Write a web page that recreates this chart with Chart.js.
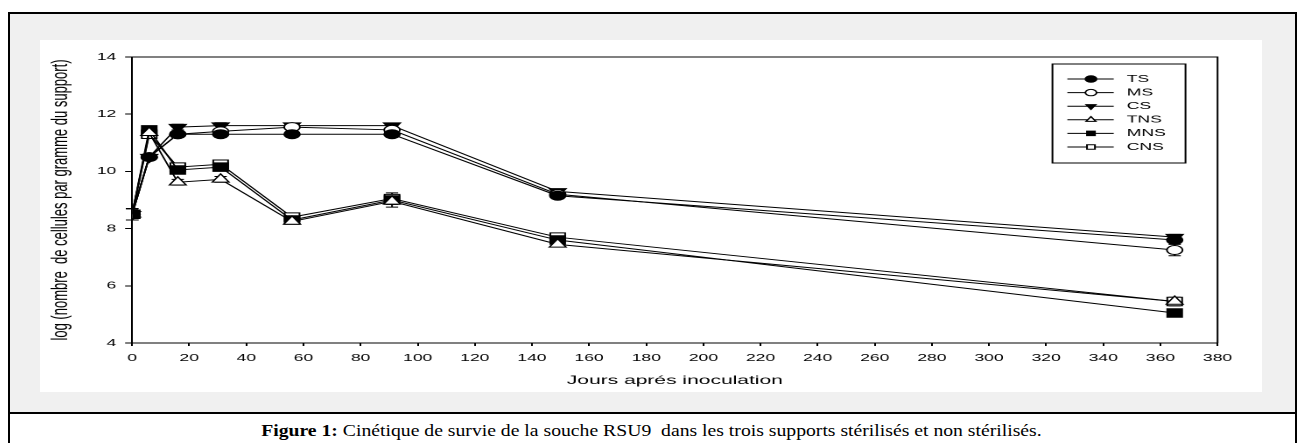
<!DOCTYPE html>
<html>
<head>
<meta charset="utf-8">
<script src="https://cdn.jsdelivr.net/npm/chart.js@4.4.1/dist/chart.umd.min.js"></script>
<style>
  html, body { margin: 0; padding: 0; background: #fff; width: 1303px; height: 443px; overflow: hidden; }
  #outer { position: absolute; left: 8px; top: 12px; width: 1285px; height: 440px; border: 2px solid #000; background: #fff; }
  #panel { position: absolute; left: 0; top: 0; width: 1285px; height: 398px; background: #f0f0f0; border-bottom: 2px solid #000; }
  #plot { position: absolute; left: 30px; top: 26px; width: 1222px; height: 352px; background: #fff; }
  #caption { position: absolute; left: 0; top: 419px; width: 1303px; text-align: center;
             font-family: "Liberation Serif", "Times New Roman", serif; font-size: 17.5px; line-height: 22px; color: #000;
             transform: scaleX(1.125); transform-origin: 652px 0; }
  canvas { display: block; }
</style>
</head>
<body>
<div id="outer">
  <div id="panel">
    <div id="plot"><canvas id="chart" width="698" height="352" style="width:1222px;height:352px"></canvas></div>
  </div>
</div>
<div id="caption"><b>Figure 1:</b> Cinétique de survie de la souche RSU9&nbsp; dans les trois supports stérilisés et non stérilisés.</div>

<script>
// ------------------------------------------------------------
// Data
// ------------------------------------------------------------
const DAYS = [0, 6, 16, 31, 56, 91, 149, 365];

const TS  = [8.5, 10.5, 11.3, 11.3, 11.3, 11.3, 9.15, 7.6];
const MS  = [8.5, 10.5, 11.3, 11.4, 11.55, 11.45, 9.2, 7.25];
const CS  = [8.5, 10.5, 11.55, 11.6, 11.6, 11.6, 9.3, 7.7];
const TNS = [8.5, 11.35, 9.62, 9.72, 8.25, 8.95, 7.45, 5.45];
const MNS = [8.5, 11.45, 10.05, 10.15, 8.3, 9.0, 7.6, 5.05];
const CNS = [8.5, 11.3, 10.15, 10.25, 8.4, 9.05, 7.7, 5.45];

const TS_ERR  = [0.2, 0.1, 0.05, 0.05, 0.05, 0.1, 0.05, 0.1];
const MS_ERR  = [0.2, 0.1, 0.1, 0.2, 0.1, 0.1, 0.05, 0.2];
const CS_ERR  = [0.2, 0.1, 0.1, 0.1, 0.05, 0.05, 0.05, 0.1];
const TNS_ERR = [0.2, 0.1, 0.1, 0.1, 0.05, 0.2, 0.05, 0.1];
const MNS_ERR = [0.2, 0.1, 0.1, 0.1, 0.05, 0.15, 0.05, 0.1];
const CNS_ERR = [0.2, 0.1, 0.1, 0.15, 0.05, 0.2, 0.05, 0.15];

const LABELS = ['TS', 'MS', 'CS', 'TNS', 'MNS', 'CNS'];

const X_MIN = 0, X_MAX = 380, X_STEP = 20;
const Y_MIN = 4, Y_MAX = 14, Y_STEP = 2;

const FONT = "'Liberation Sans', Arial, sans-serif";

function pts(ys) {
  return DAYS.map((d, i) => ({ x: d, y: ys[i] }));
}

// marker look per series
const MARKERS = [
  { style: 'circle',   fill: '#000', radius: 4.5, rotation: 0 },
  { style: 'circle',   fill: '#fff', radius: 4.5, rotation: 0 },
  { style: 'triangle', fill: '#000', radius: 5.5, rotation: 180 },
  { style: 'triangle', fill: '#fff', radius: 5.5, rotation: 0 },
  { style: 'rect',     fill: '#000', radius: 6,   rotation: 0 },
  { style: 'rect',     fill: '#fff', radius: 6,   rotation: 0 }
];

const SERIES = [TS, MS, CS, TNS, MNS, CNS];
const ERRORS = [TS_ERR, MS_ERR, CS_ERR, TNS_ERR, MNS_ERR, CNS_ERR];

// small marker drawer for the legend
function drawMarker(ctx, m, x, y, r) {
  ctx.save();
  ctx.fillStyle = m.fill;
  ctx.strokeStyle = '#000';
  ctx.lineWidth = 1;
  ctx.beginPath();
  if (m.style === 'circle') {
    ctx.arc(x, y, r, 0, Math.PI * 2);
  } else if (m.style === 'rect') {
    const s = r * Math.SQRT1_2;
    ctx.rect(x - s, y - s, 2 * s, 2 * s);
  } else {
    const dir = m.rotation === 180 ? -1 : 1;
    ctx.moveTo(x, y - dir * r);
    ctx.lineTo(x + r * 0.866, y + dir * r * 0.5);
    ctx.lineTo(x - r * 0.866, y + dir * r * 0.5);
    ctx.closePath();
  }
  ctx.fill();
  ctx.stroke();
  ctx.restore();
}

// error bars with caps, drawn under the markers
const errorBars = {
  id: 'errorBars',
  beforeDatasetsDraw(chart) {
    const { ctx, scales: { x, y } } = chart;
    ctx.save();
    ctx.strokeStyle = '#000';
    ctx.lineWidth = 1;
    chart.data.datasets.forEach((ds, i) => {
      const err = ERRORS[i];
      ds.data.forEach((p, j) => {
        const px = x.getPixelForValue(p.x);
        const y1 = y.getPixelForValue(p.y - err[j]);
        const y2 = y.getPixelForValue(p.y + err[j]);
        ctx.beginPath();
        ctx.moveTo(px, y1); ctx.lineTo(px, y2);
        ctx.moveTo(px - 3.5, y1); ctx.lineTo(px + 3.5, y1);
        ctx.moveTo(px - 3.5, y2); ctx.lineTo(px + 3.5, y2);
        ctx.stroke();
      });
    });
    ctx.restore();
  }
};

// top and right frame of the plot box
const frame = {
  id: 'frame',
  afterDraw(chart) {
    const { ctx, chartArea: a } = chart;
    ctx.save();
    ctx.strokeStyle = '#000';
    ctx.lineWidth = 1;
    ctx.beginPath();
    ctx.moveTo(a.left, a.top);
    ctx.lineTo(a.right, a.top);
    ctx.lineTo(a.right, a.bottom);
    ctx.stroke();
    ctx.restore();
  }
};

// boxed legend in the upper right of the plot
const boxLegend = {
  id: 'boxLegend',
  afterDraw(chart) {
    const { ctx, chartArea: a } = chart;
    const right = a.right - 18.3, top = a.top + 7;
    const w = 76, h = 99;
    const left = right - w;
    ctx.save();
    ctx.fillStyle = '#fff';
    ctx.fillRect(left, top, w, h);
    ctx.strokeStyle = '#000';
    ctx.lineWidth = 1;
    ctx.strokeRect(left, top, w, h);
    ctx.font = '10px ' + FONT;
    ctx.textBaseline = 'middle';
    ctx.textAlign = 'left';
    chart.data.datasets.forEach((ds, i) => {
      const yy = top + 15 + i * 13.6;
      ctx.strokeStyle = '#000';
      ctx.beginPath();
      ctx.moveTo(left + 8.5, yy);
      ctx.lineTo(left + 35, yy);
      ctx.stroke();
      drawMarker(ctx, MARKERS[i], left + 22, yy, 3.2);
      ctx.fillStyle = '#000';
      ctx.fillText(ds.label, left + 42.5, yy);
    });
    ctx.restore();
  }
};

const datasets = SERIES.map((s, i) => ({
  label: LABELS[i],
  data: pts(s),
  borderColor: '#000',
  borderWidth: 1,
  pointStyle: MARKERS[i].style,
  pointRotation: MARKERS[i].rotation,
  pointRadius: MARKERS[i].radius,
  pointBackgroundColor: MARKERS[i].fill,
  pointBorderColor: '#000',
  pointBorderWidth: 1,
  tension: 0,
  fill: false
}));

new Chart(document.getElementById('chart'), {
  type: 'line',
  data: { datasets },
  options: {
    responsive: false,
    animation: false,
    devicePixelRatio: 2,
    layout: { padding: { left: 0, top: 17, right: 25.4, bottom: 0 } },
    plugins: { legend: { display: false }, tooltip: { enabled: false } },
    scales: {
      x: {
        type: 'linear',
        min: X_MIN, max: X_MAX,
        afterFit: s => { s.height = 49; },
        ticks: { stepSize: X_STEP, color: '#000', padding: 6, font: { family: FONT, size: 10 } },
        grid: { display: true, drawOnChartArea: false, drawTicks: true, tickLength: 3, color: '#000' },
        border: { display: true, color: '#000', width: 1 },
        title: { display: true, text: 'Jours aprés inoculation', color: '#000', font: { family: FONT, size: 12 } }
      },
      y: {
        min: Y_MIN, max: Y_MAX,
        afterFit: s => { s.width = 52.6; },
        ticks: { stepSize: Y_STEP, color: '#000', padding: 5, font: { family: FONT, size: 10 } },
        grid: { display: true, drawOnChartArea: false, drawTicks: true, tickLength: 4, color: '#000' },
        border: { display: true, color: '#000', width: 1 },
        title: { display: true, text: 'log (nombre  de cellules par gramme du support)', color: '#000', font: { family: FONT, size: 13 } }
      }
    }
  },
  plugins: [errorBars, frame, boxLegend]
});
</script>
</body>
</html>
